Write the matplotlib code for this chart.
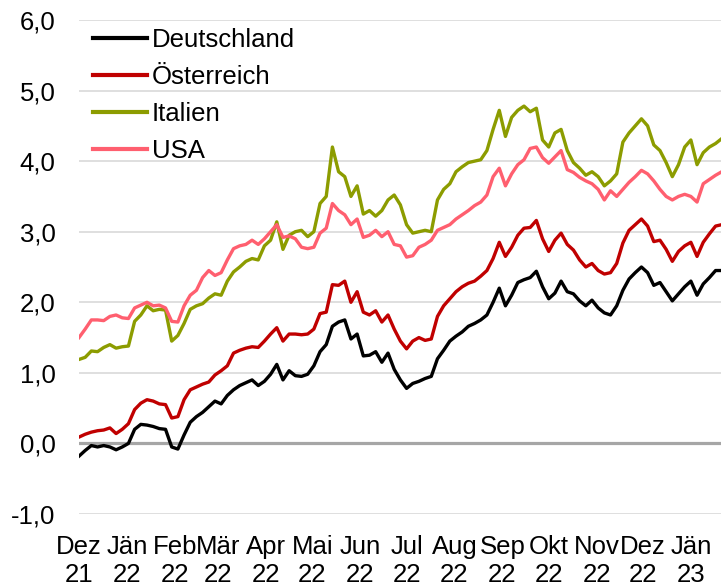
import matplotlib
matplotlib.use("Agg")
import matplotlib.pyplot as plt
import pandas as pd

plt.rcParams['font.family'] = ['Liberation Sans', 'DejaVu Sans']

# ---- data ----
start = "2021-12-01"
n_points = 105
step_days = 4

deutschland = [-0.18, -0.10, -0.03, -0.05, -0.03, -0.05, -0.09, -0.05, 0.00, 0.20,
               0.27, 0.26, 0.24, 0.21, 0.20, -0.05, -0.08, 0.12, 0.30, 0.38,
               0.44, 0.52, 0.60, 0.56, 0.68, 0.76, 0.82, 0.86, 0.90, 0.82,
               0.88, 0.98, 1.12, 0.90, 1.03, 0.96, 0.95, 0.98, 1.10, 1.30,
               1.40, 1.66, 1.72, 1.75, 1.48, 1.55, 1.24, 1.25, 1.30, 1.15,
               1.28, 1.05, 0.90, 0.78, 0.85, 0.88, 0.92, 0.95, 1.20, 1.32,
               1.45, 1.52, 1.58, 1.66, 1.70, 1.75, 1.82, 2.00, 2.20, 1.95,
               2.10, 2.28, 2.32, 2.35, 2.44, 2.22, 2.05, 2.13, 2.30, 2.15,
               2.12, 2.02, 1.95, 2.03, 1.92, 1.85, 1.82, 1.95, 2.17, 2.33,
               2.42, 2.50, 2.42, 2.24, 2.28, 2.15, 2.02, 2.12, 2.22, 2.30,
               2.10, 2.26, 2.35, 2.45, 2.45]

oesterreich = [0.09, 0.13, 0.16, 0.18, 0.19, 0.22, 0.14, 0.20, 0.28, 0.48,
               0.57, 0.62, 0.60, 0.56, 0.55, 0.36, 0.38, 0.62, 0.76, 0.80,
               0.84, 0.87, 0.97, 1.03, 1.10, 1.28, 1.32, 1.35, 1.37, 1.36,
               1.45, 1.55, 1.64, 1.45, 1.55, 1.55, 1.54, 1.55, 1.62, 1.84,
               1.86, 2.25, 2.24, 2.30, 2.00, 2.15, 1.86, 1.82, 1.88, 1.72,
               1.82, 1.62, 1.45, 1.34, 1.45, 1.50, 1.46, 1.48, 1.80, 1.95,
               2.05, 2.15, 2.22, 2.27, 2.30, 2.37, 2.45, 2.62, 2.85, 2.65,
               2.78, 2.95, 3.05, 3.06, 3.16, 2.90, 2.72, 2.88, 2.98, 2.82,
               2.74, 2.60, 2.50, 2.55, 2.45, 2.40, 2.42, 2.55, 2.84, 3.02,
               3.10, 3.18, 3.08, 2.86, 2.88, 2.75, 2.58, 2.72, 2.80, 2.85,
               2.65, 2.85, 2.97, 3.08, 3.10]

italien = [1.19, 1.22, 1.31, 1.30, 1.36, 1.40, 1.35, 1.37, 1.38, 1.73,
           1.82, 1.95, 1.88, 1.90, 1.89, 1.45, 1.53, 1.70, 1.90, 1.95,
           1.98, 2.06, 2.12, 2.10, 2.30, 2.43, 2.50, 2.58, 2.62, 2.60,
           2.80, 2.88, 3.14, 2.75, 2.95, 3.00, 3.02, 2.93, 3.00, 3.40,
           3.50, 4.20, 3.85, 3.78, 3.50, 3.65, 3.25, 3.30, 3.22, 3.30,
           3.45, 3.52, 3.38, 3.10, 2.98, 3.00, 3.02, 3.00, 3.45, 3.60,
           3.68, 3.85, 3.92, 3.98, 4.00, 4.02, 4.15, 4.45, 4.72, 4.35,
           4.62, 4.72, 4.78, 4.70, 4.75, 4.30, 4.20, 4.40, 4.45, 4.15,
           3.98, 3.90, 3.80, 3.85, 3.78, 3.65, 3.72, 3.82, 4.27, 4.40,
           4.50, 4.60, 4.50, 4.23, 4.15, 3.98, 3.78, 3.95, 4.20, 4.30,
           3.95, 4.12, 4.20, 4.25, 4.32]

usa = [1.50, 1.62, 1.75, 1.75, 1.74, 1.80, 1.82, 1.78, 1.77, 1.92,
       1.96, 2.00, 1.95, 1.96, 1.92, 1.73, 1.72, 1.95, 2.10, 2.17,
       2.35, 2.45, 2.38, 2.42, 2.60, 2.76, 2.80, 2.82, 2.88, 2.82,
       2.90, 3.00, 3.10, 2.92, 2.94, 2.90, 2.78, 2.76, 2.78, 2.98,
       3.05, 3.40, 3.30, 3.24, 3.10, 3.18, 2.92, 2.95, 3.02, 2.93,
       3.00, 2.82, 2.80, 2.64, 2.66, 2.78, 2.82, 2.88, 3.02, 3.06,
       3.10, 3.18, 3.24, 3.30, 3.37, 3.42, 3.52, 3.78, 3.90, 3.65,
       3.82, 3.95, 4.02, 4.18, 4.20, 4.05, 3.97, 4.06, 4.15, 3.88,
       3.84, 3.77, 3.72, 3.68, 3.60, 3.45, 3.58, 3.50, 3.60, 3.70,
       3.78, 3.87, 3.82, 3.72, 3.60, 3.50, 3.45, 3.50, 3.53, 3.50,
       3.42, 3.68, 3.74, 3.80, 3.85]

series_names = ["Deutschland", "Österreich", "Italien", "USA"]
series_values = [deutschland, oesterreich, italien, usa]
series_colors = ["#000000", "#c00000", "#8c9c00", "#ff5f6f"]

month_starts = ["2021-12-01", "2022-01-01", "2022-02-01", "2022-03-01", "2022-04-01",
                "2022-05-01", "2022-06-01", "2022-07-01", "2022-08-01", "2022-09-01",
                "2022-10-01", "2022-11-01", "2022-12-01", "2023-01-01"]
month_labels = ["Dez\n21", "Jän\n22", "Feb\n22", "Mär\n22", "Apr\n22", "Mai\n22",
                "Jun\n22", "Jul\n22", "Aug\n22", "Sep\n22", "Okt\n22", "Nov\n22",
                "Dez\n22", "Jän\n23"]

y_ticks = [-1.0, 0.0, 1.0, 2.0, 3.0, 4.0, 5.0, 6.0]
y_labels = ["-1,0", "0,0", "1,0", "2,0", "3,0", "4,0", "5,0", "6,0"]

# ---- figure ----
dates = pd.date_range(start, periods=n_points, freq=f"{step_days}D")

fig = plt.figure(figsize=(7.21, 5.87), dpi=100)
ax = fig.add_axes([79 / 721, (587 - 514) / 587, (721 - 79) / 721, (514 - 20) / 587])

for yv in y_ticks:
    if yv != 0.0:
        ax.axhline(yv, color="#d9d9d9", lw=1.2, zorder=1)
ax.axhline(0.0, color="#a6a6a6", lw=2.3, zorder=1)

for name, vals, col in zip(series_names, series_values, series_colors):
    ax.plot(dates, vals, color=col, lw=2.4, label=name, zorder=3,
            solid_joinstyle="round")

ax.set_ylim(-1.0, 6.0)
ax.set_xlim(pd.Timestamp(start), pd.Timestamp(start) + pd.Timedelta(days=415.5))
ax.set_yticks(y_ticks)
ax.set_yticklabels(y_labels, fontsize=18.5)
ax.set_xticks(pd.to_datetime(month_starts))
ax.set_xticklabels(month_labels, fontsize=18.5, linespacing=1.2)
ax.tick_params(axis="both", length=0)
ax.tick_params(axis="y", pad=17)
ax.tick_params(axis="x", pad=15)
for s in ax.spines.values():
    s.set_visible(False)

leg = ax.legend(loc="upper left", bbox_to_anchor=(14 / 642, 1.0 - 8 / 494), frameon=False,
                fontsize=18.5, handlelength=2.1, handletextpad=0.2,
                labelspacing=0.51, borderpad=0.0, borderaxespad=0.0)
for line in leg.get_lines():
    line.set_linewidth(3.0)

fig.savefig("out.png", dpi=100)
